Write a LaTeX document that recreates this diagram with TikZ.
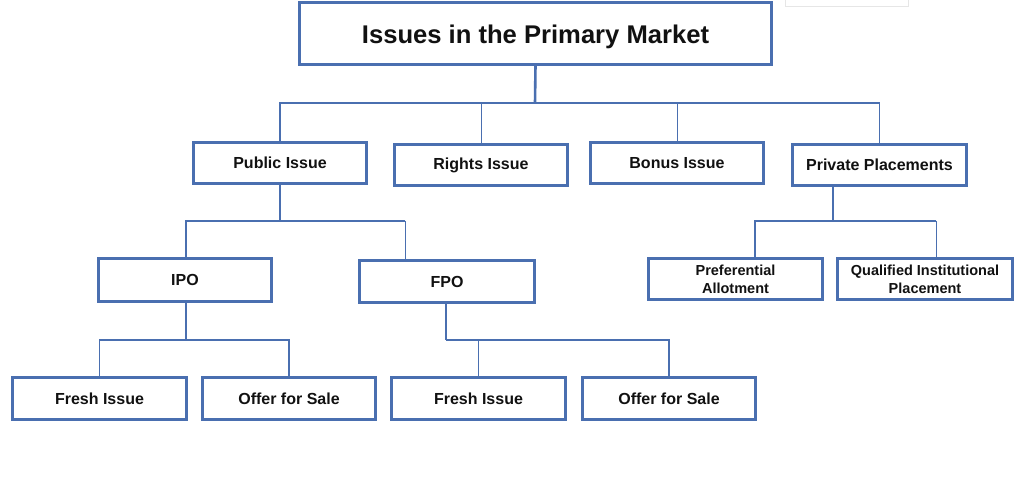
\documentclass[tikz,border=0pt]{standalone}
\usepackage{fontspec}
\setmainfont{Liberation Sans}
\definecolor{boxblue}{HTML}{4A6FB0}
\definecolor{faint}{HTML}{E6E6E6}
\definecolor{txt}{HTML}{111111}
\begin{document}
\begin{tikzpicture}[x=1pt,y=-1pt,
  box/.style={draw=boxblue,line width=1.7pt,fill=white,inner sep=0pt,text=txt,align=center},
  lvl/.style={box,font=\fontsize{16}{19}\selectfont\bfseries,minimum width=172pt,minimum height=40pt},
  small/.style={box,font=\fontsize{14.5}{19}\selectfont\bfseries,minimum width=173pt,minimum height=40pt},
  conn/.style={draw=boxblue,line width=1.9pt},
  thinconn/.style={draw=boxblue,line width=1pt},
  stem/.style={draw=boxblue,line width=2.6pt}]
\useasboundingbox (0,0) rectangle (1024,502);
\fill[white] (0,0) rectangle (1024,502);
% faint artifact box
\draw[faint,line width=1pt] (785,-1) rectangle (908,7);

% nodes
\node[box,font=\fontsize{25.6}{30}\selectfont\bfseries,minimum width=471pt,minimum height=61pt] (top) at (535.5,33.5) {\raisebox{-10.5pt}[0pt][0pt]{Issues in the Primary Market}};
\node[lvl] (pub) at (280,163) {Public Issue};
\node[lvl] (rights) at (481,165) {Rights Issue};
\node[lvl] (bonus) at (677,163) {Bonus Issue};
\node[lvl,minimum width=173pt] (priv) at (879.5,165) {Private Placements};
\node[lvl,minimum height=42pt] (ipo) at (185,280) {IPO};
\node[lvl,minimum width=174pt,minimum height=41pt] (fpo) at (447,281.5) {FPO};
\node[small] (pref) at (735.5,279) {\raisebox{-1pt}{Preferential}\\Allotment};
\node[small,minimum width=174pt] (qip) at (925,279) {\raisebox{-1pt}{Qualified Institutional}\\Placement};
\node[lvl,minimum width=173pt,minimum height=41pt] (fresh1) at (99.5,398.5) {Fresh Issue};
\node[lvl,minimum height=41pt] (ofs1) at (289,398.5) {Offer for Sale};
\node[lvl,minimum width=173pt,minimum height=41pt] (fresh2) at (478.5,398.5) {Fresh Issue};
\node[lvl,minimum height=41pt] (ofs2) at (669,398.5) {Offer for Sale};

% junction coordinates
\coordinate (j1) at (535,103);
\coordinate (j2) at (280,221);
\coordinate (j2r) at (405,221);
\coordinate (j3) at (186,340);
\coordinate (j4) at (446,340);
\coordinate (j5) at (833,221);
\coordinate (j5l) at (755,221);
\coordinate (j5r) at (936,221);

% level 1 -> 2
\draw[stem] (top.south) -- (j1);
\draw[conn] (pub.north) |- (j1) -| (priv.north);
\draw[thinconn] (rights.north) -- (rights.north |- j1);
\draw[thinconn] (bonus.north) -- (bonus.north |- j1);

% public issue
\draw[stem] (pub.south) -- (j2);
\draw[conn] (ipo.north -| j3) |- (j2) -- (j2r);
\draw[thinconn] (j2r) -- (j2r |- fpo.north);

% IPO
\draw[stem] (ipo.south -| j3) -- (j3);
\draw[conn] (fresh1.north) |- (j3) -| (ofs1.north);

% FPO
\draw[stem] (fpo.south -| j4) -- (j4);
\draw[conn] (j4) -| (ofs2.north);
\draw[conn] (fresh2.north) -- (fresh2.north |- j4);

% Private placements
\draw[stem] (priv.south -| j5) -- (j5);
\draw[conn] (j5l |- pref.north) -- (j5l) -- (j5r);
\draw[thinconn] (j5r) -- (j5r |- qip.north);

% redraw boxes on top of line ends
\foreach \n in {top,pub,rights,bonus,priv,ipo,fpo,pref,qip,fresh1,ofs1,fresh2,ofs2}{
  \draw[boxblue,line width=1.7pt] (\n.north west) rectangle (\n.south east);
}
\end{tikzpicture}
\end{document}
